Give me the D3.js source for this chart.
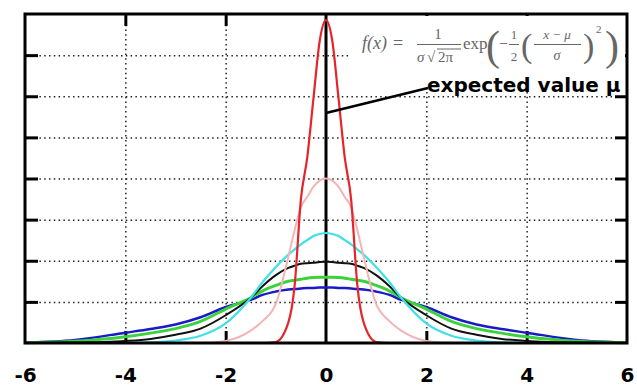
<!DOCTYPE html>
<html>
<head>
<meta charset="utf-8">
<script src="https://cdn.jsdelivr.net/npm/d3@7"></script>
<style>
  body { margin: 0; background: #fff; }
  svg { display: block; }
</style>
</head>
<body>
<script>
// Canvas size
var width = 637,
    height = 387;

// Plot frame in pixels
var margin = {left: 25, right: 10, top: 14, bottom: 44};

// Shared x positions of the sampled points
var xs = [-6, -5, -4, -3.5, -3, -2.5, -2, -1.5, -1.25, -1, -0.75, -0.625, -0.5, -0.375, -0.25, -0.125, 0,
          0.125, 0.25, 0.375, 0.5, 0.625, 0.75, 1, 1.25, 1.5, 2, 2.5, 3, 3.5, 4, 5, 6];

// Curve heights, one array per line
var blueVals  = [0.002, 0.015, 0.05, 0.068, 0.09, 0.125, 0.175, 0.21, 0.235, 0.25, 0.26, 0.263, 0.265, 0.267, 0.268, 0.27, 0.27,
                 0.27, 0.268, 0.267, 0.265, 0.263, 0.26, 0.25, 0.235, 0.21, 0.175, 0.125, 0.09, 0.068, 0.05, 0.015, 0.002];
var greenVals = [0.001, 0.008, 0.03, 0.048, 0.07, 0.105, 0.165, 0.22, 0.255, 0.28, 0.30, 0.305, 0.31, 0.315, 0.318, 0.32, 0.32,
                 0.32, 0.318, 0.315, 0.31, 0.305, 0.30, 0.28, 0.255, 0.22, 0.165, 0.105, 0.07, 0.048, 0.03, 0.008, 0.001];
var blackVals = [0, 0.002, 0.01, 0.02, 0.04, 0.07, 0.135, 0.22, 0.28, 0.33, 0.365, 0.376, 0.385, 0.388, 0.39, 0.394, 0.395,
                 0.394, 0.39, 0.388, 0.385, 0.376, 0.365, 0.33, 0.28, 0.22, 0.135, 0.07, 0.04, 0.02, 0.01, 0.002, 0];
var cyanVals  = [0, 0, 0, 0.003, 0.012, 0.035, 0.095, 0.22, 0.30, 0.37, 0.43, 0.455, 0.48, 0.50, 0.52, 0.53, 0.535,
                 0.53, 0.52, 0.50, 0.48, 0.455, 0.43, 0.37, 0.30, 0.22, 0.095, 0.035, 0.012, 0.003, 0, 0, 0];
var pinkVals  = [0, 0, 0, 0, 0, 0, 0.01, 0.06, 0.11, 0.19, 0.42, 0.55, 0.66, 0.71, 0.76, 0.79, 0.80,
                 0.79, 0.76, 0.71, 0.66, 0.55, 0.42, 0.19, 0.11, 0.06, 0.01, 0, 0, 0, 0, 0, 0];
var redVals   = [0, 0, 0, 0, 0, 0, 0, 0, 0, 0.005, 0.10, 0.28, 0.70, 0.90, 1.19, 1.47, 1.57,
                 1.47, 1.19, 0.90, 0.70, 0.28, 0.10, 0.005, 0, 0, 0, 0, 0, 0, 0, 0, 0];

// Drawing order (back to front)
var seriesNames  = ["blue", "green", "black", "cyan", "pink", "red"];
var seriesValues = [blueVals, greenVals, blackVals, cyanVals, pinkVals, redVals];
var seriesColors = ["#1a1ac8", "#3cd23c", "#111111", "#3fe0e6", "#f4b4b4", "#e4252b"];
var seriesWidths = [2.5, 3, 2, 2.2, 2, 2.2];

// Tick values
var xTickLabels = [-6, -4, -2, 0, 2, 4, 6];
var xGridTicks  = [-4, -2, 2, 4];
var yGridTicks  = [0.2, 0.4, 0.6, 0.8, 1, 1.2, 1.4];

var x = d3.scaleLinear()
    .domain([-6, 6])
    .range([margin.left, width - margin.right]);

var y = d3.scaleLinear()
    .domain([0, 1.6])
    .range([height - margin.bottom, margin.top]);

var svg = d3.select("body").append("svg")
    .attr("width", width)
    .attr("height", height);

var yTop = y(1.6), yBottom = y(0), xLeft = x(-6), xRight = x(6);

// Dotted grid
svg.append("g")
    .attr("class", "grid")
    .attr("transform", "translate(0," + yBottom + ")")
    .call(d3.axisBottom(x).tickValues(xGridTicks).tickSize(-(yBottom - yTop)).tickFormat(""))
    .call(g => g.select(".domain").remove())
    .selectAll("line")
    .attr("stroke", "#222")
    .attr("stroke-width", 1.5)
    .attr("stroke-dasharray", "1.5,3.3");

svg.append("g")
    .attr("class", "grid")
    .attr("transform", "translate(" + xLeft + ",0)")
    .call(d3.axisLeft(y).tickValues(yGridTicks).tickSize(-(xRight - xLeft)).tickFormat(""))
    .call(g => g.select(".domain").remove())
    .selectAll("line")
    .attr("stroke", "#222")
    .attr("stroke-width", 1.5)
    .attr("stroke-dasharray", "1.5,3.3");

// Inward tick marks on all four sides
function thickTicks(g) {
    g.select(".domain").remove();
    g.selectAll("line").attr("stroke", "#000").attr("stroke-width", 3);
}
svg.append("g").attr("transform", "translate(0," + yBottom + ")")
    .call(d3.axisBottom(x).tickValues(xGridTicks).tickSize(-12).tickFormat(""))
    .call(thickTicks);
svg.append("g").attr("transform", "translate(0," + yTop + ")")
    .call(d3.axisTop(x).tickValues(xGridTicks).tickSize(-12).tickFormat(""))
    .call(thickTicks);
svg.append("g").attr("transform", "translate(" + xLeft + ",0)")
    .call(d3.axisLeft(y).tickValues(yGridTicks).tickSize(-13).tickFormat(""))
    .call(thickTicks);
svg.append("g").attr("transform", "translate(" + xRight + ",0)")
    .call(d3.axisRight(y).tickValues(yGridTicks).tickSize(-12).tickFormat(""))
    .call(thickTicks);

// Expected value line at mu = 0
svg.append("line")
    .attr("x1", x(0)).attr("x2", x(0))
    .attr("y1", yTop).attr("y2", yBottom)
    .attr("stroke", "#000")
    .attr("stroke-width", 3);

// The curves
var line = d3.line()
    .x((d, i) => x(xs[i]))
    .y(d => y(d))
    .curve(d3.curveMonotoneX);

svg.append("g")
    .attr("class", "curves")
    .selectAll("path")
    .data(seriesValues)
    .enter()
    .append("path")
    .attr("class", (d, i) => seriesNames[i])
    .attr("fill", "none")
    .attr("stroke", (d, i) => seriesColors[i])
    .attr("stroke-width", (d, i) => seriesWidths[i])
    .attr("stroke-linejoin", "round")
    .attr("d", line);

// Frame
svg.append("rect")
    .attr("x", xLeft).attr("y", yTop)
    .attr("width", xRight - xLeft).attr("height", yBottom - yTop)
    .attr("fill", "none")
    .attr("stroke", "#000")
    .attr("stroke-width", 3);

// White box behind the formula
svg.append("rect")
    .attr("x", 351).attr("y", yTop + 2)
    .attr("width", xRight - 353).attr("height", 76)
    .attr("fill", "#fff");

// Formula f(x) = 1/(sigma sqrt(2 pi)) exp(-1/2 ((x - mu)/sigma)^2)
var formula = svg.append("g")
    .attr("fill", "#666")
    .attr("font-family", "'Liberation Serif', 'DejaVu Serif', serif");

function ftext(tx, ty, s, size, opts) {
    opts = opts || {};
    return formula.append("text")
        .attr("x", tx).attr("y", ty)
        .attr("font-size", size)
        .attr("font-style", opts.italic ? "italic" : "normal")
        .attr("text-anchor", opts.anchor || "start")
        .text(s);
}
function fbar(x1, x2, yy) {
    formula.append("line")
        .attr("x1", x1).attr("x2", x2)
        .attr("y1", yy).attr("y2", yy)
        .attr("stroke", "#666").attr("stroke-width", 1);
}

ftext(362, 49, "f(x)", 18, {italic: true});
ftext(393, 49, "=", 18);
ftext(438, 39, "1", 15, {anchor: "middle"});
fbar(417, 461, 44.5);
ftext(417, 62, "σ", 15, {italic: true});
ftext(427, 62, "√", 15);
fbar(437, 461, 49);
ftext(438, 62, "2π", 15);
ftext(463, 49, "exp", 17);
ftext(486, 60, "(", 42);
ftext(499, 49, "−", 16);
ftext(514, 39, "1", 13, {anchor: "middle"});
fbar(509, 519, 44.5);
ftext(514, 61, "2", 13, {anchor: "middle"});
ftext(521, 57, "(", 34);
ftext(557, 39, "x − μ", 13, {italic: true, anchor: "middle"});
fbar(534, 581, 44.5);
ftext(557, 60, "σ", 14, {italic: true, anchor: "middle"});
ftext(583, 57, ")", 34);
ftext(596, 33, "2", 11);
ftext(605, 60, ")", 42);

// Annotation with pointer to the mean line
svg.append("line")
    .attr("x1", x(0)).attr("y1", 113)
    .attr("x2", 428).attr("y2", 88)
    .attr("stroke", "#000")
    .attr("stroke-width", 2.5);

svg.append("text")
    .attr("x", 427)
    .attr("y", 92)
    .attr("font-family", "'DejaVu Sans', sans-serif")
    .attr("font-weight", "bold")
    .attr("font-size", 20)
    .attr("fill", "#000")
    .text("expected value μ");

// X tick labels
svg.append("g")
    .attr("transform", "translate(0," + yBottom + ")")
    .call(d3.axisBottom(x).tickValues(xTickLabels).tickSize(0).tickFormat(d => d < 0 ? "-" + Math.abs(d) : d))
    .call(g => g.select(".domain").remove())
    .selectAll("text")
    .attr("y", 39)
    .attr("dy", null)
    .attr("font-family", "'DejaVu Sans', sans-serif")
    .attr("font-weight", "bold")
    .attr("font-size", 20)
    .attr("fill", "#000");
</script>
</body>
</html>
